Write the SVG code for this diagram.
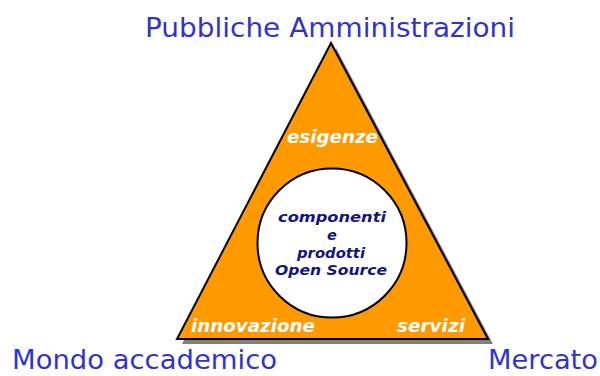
<svg xmlns="http://www.w3.org/2000/svg" width="600" height="376" viewBox="0 0 600 376">
<style>
.title{font-family:"DejaVu Sans","Liberation Sans",sans-serif;font-size:27px;fill:#3333CC}
.lbl{font-family:"DejaVu Sans","Liberation Sans",sans-serif;font-size:18px;font-weight:bold;font-style:italic;fill:#FFFFFF}
.ctr{font-family:"DejaVu Sans","Liberation Sans",sans-serif;font-size:14.5px;font-weight:bold;font-style:italic;fill:#141480;text-anchor:middle}
</style>
<rect width="600" height="376" fill="#FFFFFF"/>
<g id="triangle">
<polygon points="336,48 182,344 493,344" fill="#808080"/>
<polygon points="331,43 177,339 488,339" fill="#FF9900" stroke="#000000" stroke-width="2" stroke-linejoin="miter"/>
<text class="lbl" x="287" y="143" textLength="91" lengthAdjust="spacingAndGlyphs">esigenze</text>
<text class="lbl" x="191" y="332" textLength="124" lengthAdjust="spacingAndGlyphs">innovazione</text>
<text class="lbl" x="397" y="332" textLength="68" lengthAdjust="spacingAndGlyphs">servizi</text>
</g>
<g id="center">
<circle cx="332" cy="243" r="74.5" fill="#FFFFFF" stroke="#000000" stroke-width="2"/>
<text class="ctr" x="332" y="222" textLength="108" lengthAdjust="spacingAndGlyphs">componenti</text>
<text class="ctr" x="332" y="240">e</text>
<text class="ctr" x="331" y="258" textLength="68" lengthAdjust="spacingAndGlyphs">prodotti</text>
<text class="ctr" x="331" y="275" textLength="112" lengthAdjust="spacingAndGlyphs">Open Source</text>
</g>
<g id="pa">
<text class="title" x="145" y="37" textLength="370" lengthAdjust="spacingAndGlyphs">Pubbliche Amministrazioni</text>
</g>
<g id="accademico">
<text class="title" x="12" y="369" textLength="265" lengthAdjust="spacingAndGlyphs">Mondo accademico</text>
</g>
<g id="mercato">
<text class="title" x="488" y="369" textLength="110" lengthAdjust="spacingAndGlyphs">Mercato</text>
</g>
<g id="connectors"></g>
</svg>
